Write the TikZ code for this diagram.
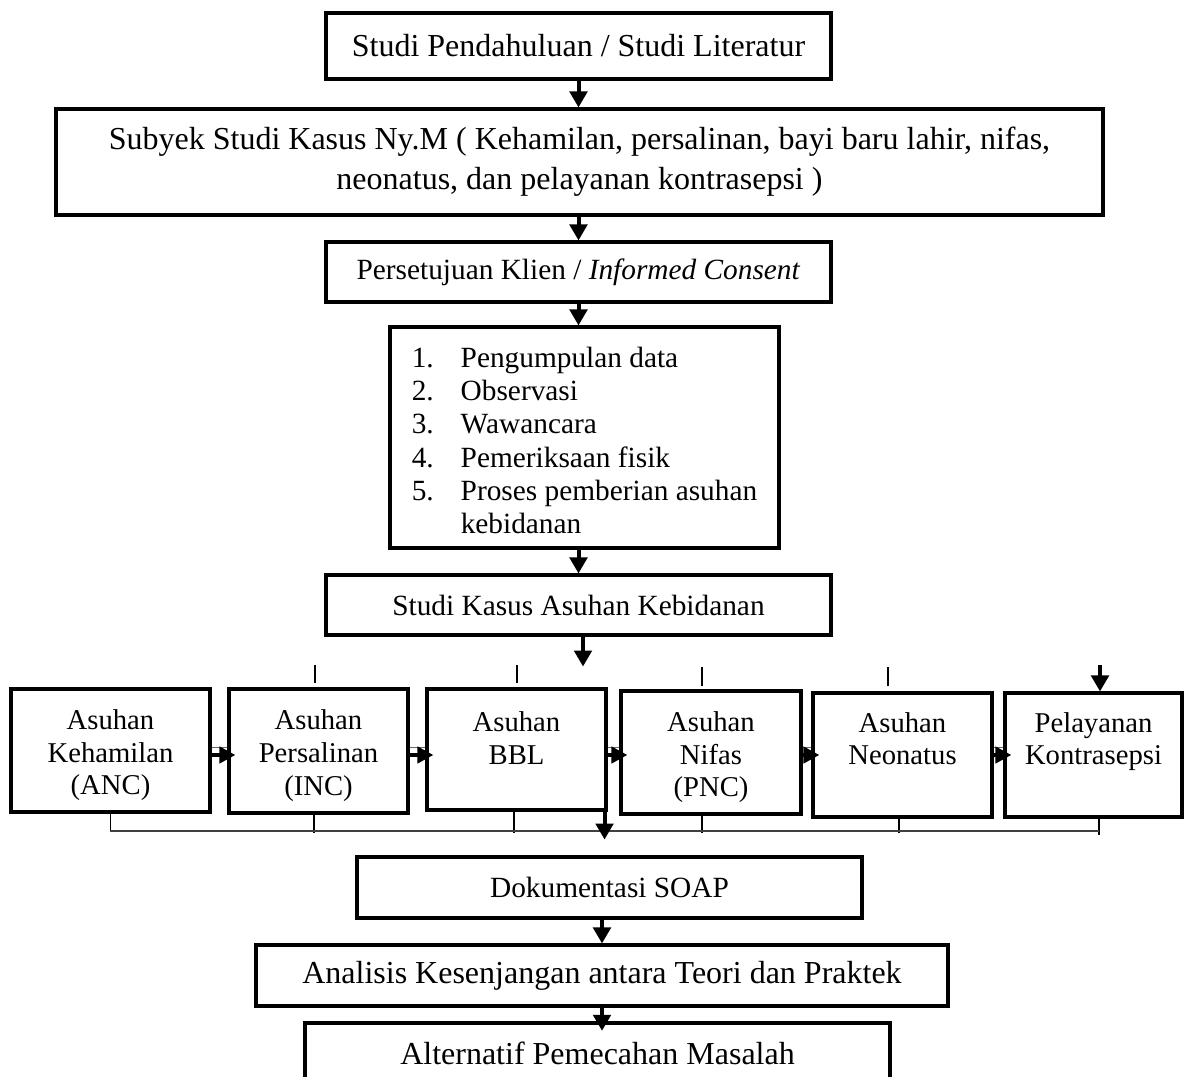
\documentclass[tikz,border=0pt]{standalone}
\usepackage{fontspec}
\setmainfont{Liberation Serif}
\usetikzlibrary{arrows.meta}

\begin{document}
\begin{tikzpicture}
  [x=0.75pt, y=-0.75pt,
   >={Triangle[length=12pt,width=13pt]},
   flowbox/.style={draw, line width=2.3pt, inner sep=0pt, align=center,
     font=\fontsize{24}{30}\selectfont},
   midbox/.style={flowbox, font=\fontsize{22}{25}\selectfont},
   rowbox/.style={flowbox, minimum width=134.25pt, minimum height=93pt,
     font=\fontsize{21.5}{24.5}\selectfont},
   arr/.style={->, line width=3pt},
   harr/.style={-{Triangle[length=12pt,width=12pt]}, line width=3pt, shorten >=-6pt},
   upline/.style={line width=0.8pt, black!60},
   tickline/.style={line width=0.8pt},
   bus/.style={line width=0.8pt, black!75}]
  \useasboundingbox (0,0) rectangle (1184,1077);

  \node[flowbox, minimum width=378.75pt, minimum height=49.5pt] (pendahuluan) at (578.5,46)
    {Studi Pendahuluan / Studi Literatur};
  \node[flowbox, minimum width=785.25pt, minimum height=79.5pt] (subyek) at (579.5,162)
    {Subyek Studi Kasus Ny.M ( Kehamilan, persalinan, bayi baru lahir, nifas,\\
     neonatus, dan pelayanan kontrasepsi )};
  \node[midbox, minimum width=378.75pt, minimum height=45pt] (persetujuan) at (578.5,272)
    {Persetujuan Klien / \textit{Informed Consent}};
  \node[midbox, minimum width=291.75pt, minimum height=165.75pt] (metode) at (584.5,437.5)
    {\begin{tabular}{@{}p{36.75pt}@{}l@{}}
      1. & \rule{0pt}{27pt}Pengumpulan data\\
      2. & Observasi\\
      3. & Wawancara\\
      4. & Pemeriksaan fisik\\
      5. & Proses pemberian asuhan\\
         & kebidanan
     \end{tabular}};
  \node[midbox, minimum width=378.75pt, minimum height=45pt] (studikasus) at (578.5,605)
    {Studi Kasus Asuhan Kebidanan};

  \node[rowbox, minimum width=149.25pt, minimum height=92.25pt] (anc) at (110.5,750.5)
    {\rule{0pt}{22pt}Asuhan\\Kehamilan\\(ANC)};
  \node[rowbox] (inc) at (318.5,751) {\rule{0pt}{22pt}Asuhan\\Persalinan\\(INC)};
  \node[rowbox, minimum height=90.75pt] (bbl) at (516.5,749.5)
    {\rule{0pt}{22pt}Asuhan\\BBL\\\mbox{}};
  \node[rowbox, minimum width=135pt, minimum height=92.25pt] (pnc) at (711,752.5)
    {\rule{0pt}{22pt}Asuhan\\Nifas\\(PNC)};
  \node[rowbox] (neonatus) at (902.5,755) {Asuhan\\Neonatus\\\mbox{}};
  \node[rowbox, minimum width=132.75pt] (kontrasepsi) at (1093.5,755)
    {Pelayanan\\Kontrasepsi\\\mbox{}};

  \node[midbox, minimum width=378.75pt, minimum height=45.75pt] (soap) at (609.5,887.5)
    {Dokumentasi SOAP};
  \node[flowbox, minimum width=519pt, minimum height=45.75pt] (analisis) at (602,975.5)
    {Analisis Kesenjangan antara Teori dan Praktek};
  \node[flowbox, minimum width=438.75pt, minimum height=45pt] (alternatif) at (597.5,1053)
    {Alternatif Pemecahan Masalah};

  % alur utama
  \draw[arr] (pendahuluan.south) -- (pendahuluan.south |- subyek.north);
  \draw[arr] (subyek.south -| persetujuan.north) -- (persetujuan.north);
  \draw[arr] (persetujuan.south) -- (persetujuan.south |- metode.north);
  \draw[arr] (metode.south -| studikasus.north) -- (studikasus.north);
  \draw[arr] (studikasus.south) ++(4.5,0) -- ++(0,30);

  % garis atas
  \draw[tickline] (inc.north) ++(-3.5,-4) -- ++(0,-18);
  \draw[tickline] (bbl.north) ++(0.5,-4) -- ++(0,-18);
  \draw[tickline] (pnc.north) ++(-9,-3) -- ++(0,-19);
  \draw[tickline] (neonatus.north) ++(-14.5,-5) -- ++(0,-19);
  \draw[arr] (kontrasepsi.north) ++(6.5,-26) -- ++(0,26);

  % panah antar asuhan
  \coordinate (arow) at (0,755);
  \coordinate (trow) at (0,747.5);
  \draw[upline] (anc.east |- trow) -- (inc.west |- trow);
  \draw[harr] (anc.east |- arow) -- (inc.west |- arow);
  \draw[upline] (inc.east |- trow) -- (bbl.west |- trow);
  \draw[harr] (inc.east |- arow) -- (bbl.west |- arow);
  \draw[upline] (bbl.east |- trow) -- (pnc.west |- trow);
  \draw[harr] (bbl.east |- arow) -- (pnc.west |- arow);
  \draw[upline] (pnc.east |- trow) -- (neonatus.west |- trow);
  \draw[harr] (pnc.east |- arow) -- (neonatus.west |- arow);
  \draw[upline] (neonatus.east |- trow) -- (kontrasepsi.west |- trow);
  \draw[harr] (neonatus.east |- arow) -- (kontrasepsi.west |- arow);

  % garis bawah
  \coordinate (busstart) at (110,831);
  \coordinate (busend) at (1099,831);
  \draw[tickline] (anc.south) -- (anc.south |- busstart);
  \draw[tickline] (inc.south) ++(-4.5,0) -- ++(0,18);
  \draw[tickline] (bbl.south) ++(-2.5,0) -- ++(0,21);
  \draw[tickline] (pnc.south) ++(-9,0) -- ++(0,17);
  \draw[tickline] (neonatus.south) ++(-3.5,0) -- ++(0,14);
  \draw[tickline] (kontrasepsi.south) ++(5.5,0) -- ++(0,16);
  \draw[bus] (busstart) -- (busend);
  \draw[arr] (bbl.south east) ++(-3,0) -- ++(0,28);

  \draw[arr] (soap.south -| analisis.north) -- (analisis.north);
  \draw[arr, shorten >=-7pt] (analisis.south) -- (analisis.south |- alternatif.north);
\end{tikzpicture}
\end{document}
